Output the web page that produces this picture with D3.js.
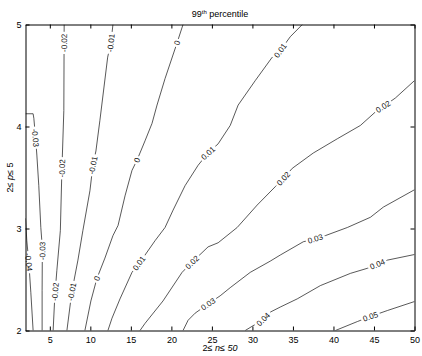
<!DOCTYPE html>
<html>
<head>
<meta charset="utf-8">
<script src="https://cdn.jsdelivr.net/npm/d3@7"></script>
<style>
  html, body { margin: 0; padding: 0; background: #fff; }
  svg { display: block; font-family: "Liberation Sans", Arial, Helvetica, sans-serif; }
</style>
</head>
<body>
<svg id="chart" width="422" height="356"></svg>
<script>
// ---- data (n, p) points along each contour line ----
const levels = [-0.04, -0.03, -0.02, -0.01, 0, 0.01, 0.02, 0.03, 0.04, 0.05];

const lineM04 = [[2.0,3.10],[2.16,2.88],[2.41,2.67],[2.66,2.37],[2.94,2.0]];
const lineM03 = [[2.0,4.125],[2.94,4.125],[3.03,4.08],[3.24,3.89],[3.40,3.72],[3.64,3.42],[3.89,3.01],[4.08,2.81],[4.05,2.39],[4.05,2.0]];
const lineM02 = [[6.77,5.0],[6.73,4.157],[6.49,3.569],[6.30,2.98],[5.87,2.59],[5.62,2.34],[5.41,2.0]];
const lineM01 = [[12.79,5.0],[12.54,4.82],[12.14,4.68],[11.18,4.06],[10.69,3.76],[10.32,3.62],[9.95,3.37],[9.08,2.98],[8.47,2.69],[7.72,2.38],[7.11,2.0]];
const line0   = [[21.44,5.0],[20.70,4.82],[19.22,4.47],[18.23,4.21],[17.61,4.03],[16.75,3.86],[15.76,3.67],[15.14,3.57],[14.28,3.32],[13.42,3.03],[12.79,2.93],[11.80,2.71],[10.81,2.51],[10.07,2.29],[9.33,2.0]];
const lineP01 = [[36.16,5.0],[34.67,4.88],[33.44,4.745],[32.45,4.68],[30.35,4.45],[28.24,4.21],[27.26,4.01],[25.77,3.83],[24.53,3.74],[23.30,3.62],[21.69,3.42],[20.21,3.18],[19.22,3.01],[17.98,2.88],[16.75,2.74],[16.00,2.66],[15.14,2.57],[13.66,2.31],[12.67,2.12],[12.17,2.0]];
const lineP02 = [[50,4.45],[47.65,4.28],[46.41,4.21],[45.42,4.16],[43.32,4.01],[40.48,3.88],[37.51,3.74],[34.92,3.59],[33.81,3.49],[32.82,3.41],[30.59,3.23],[28.12,3.01],[25.77,2.86],[24.53,2.82],[22.56,2.67],[21.32,2.57],[18.97,2.29],[16.75,2.07],[16.13,2.0]];
const lineP03 = [[50,3.38],[46.16,3.21],[44.56,3.11],[41.72,3.01],[39.0,2.93],[37.76,2.90],[36.28,2.87],[33.44,2.74],[32.20,2.68],[29.73,2.57],[27.26,2.42],[26.02,2.34],[24.53,2.26],[22.93,2.17],[22.06,2.10],[21.44,2.0]];
const lineP04 = [[50,2.745],[46.66,2.69],[45.42,2.65],[44.19,2.61],[42.09,2.56],[38.38,2.44],[35.53,2.31],[33.44,2.23],[32.20,2.18],[31.33,2.11],[30.35,2.06],[29.11,2.0]];
const lineP05 = [[50,2.284],[46.66,2.196],[44.56,2.137],[42.96,2.088],[40.24,2.0]];

// label anchor points (n, p) for each contour
const labM04 = [[2.41,2.67]];
const labM03 = [[3.24,3.89],[4.08,2.78]];
const labM02 = [[6.76,4.82],[6.49,3.59],[5.66,2.38]];
const labM01 = [[12.54,4.82],[10.32,3.62],[7.72,2.38]];
const lab0   = [[20.70,4.82],[15.76,3.67],[10.81,2.51]];
const labP01 = [[33.44,4.745],[24.53,3.74],[16.0,2.66]];
const labP02 = [[46.16,4.19],[33.81,3.49],[22.56,2.67]];
const labP03 = [[37.76,2.90],[24.53,2.26]];
const labP04 = [[45.42,2.65],[31.33,2.11]];
const labP05 = [[44.56,2.137]];

const xTicks = [5,10,15,20,25,30,35,40,45,50];
const yTicks = [2,3,4,5];
const xDomain = [2, 50];
const yDomain = [2, 5];

const titleMain = "99", titleSup = "th", titleRest = " percentile";

// ---- build table ----
const lines = [lineM04, lineM03, lineM02, lineM01, line0, lineP01, lineP02, lineP03, lineP04, lineP05];
const labs  = [labM04, labM03, labM02, labM01, lab0, labP01, labP02, labP03, labP04, labP05];
const contours = levels.map((v, i) => ({ level: v, pts: lines[i], labels: labs[i] }));

const L = 25.5, R = 414.5, T = 24.5, B = 330.5;
const x = d3.scaleLinear().domain(xDomain).range([L, R]);
const y = d3.scaleLinear().domain(yDomain).range([B, T]);

const svg = d3.select("#chart");
svg.append("defs").append("clipPath").attr("id", "clip")
  .append("rect").attr("x", L).attr("y", T).attr("width", R - L).attr("height", B - T);

const fmt = v => v === 0 ? "0" : (v < 0 ? "-" : "") + Math.abs(v).toFixed(2);
const lineGen = d3.line().x(d => x(d[0])).y(d => y(d[1]));

const gC = svg.append("g").attr("clip-path", "url(#clip)");
gC.selectAll("path.c").data(contours).join("path")
  .attr("class", "c")
  .attr("d", d => lineGen(d.pts))
  .attr("fill", "none")
  .attr("stroke", "#111")
  .attr("stroke-width", 0.7);

// labels along lines
function project(pts, q) {
  const P = pts.map(d => [x(d[0]), y(d[1])]);
  const Q = [x(q[0]), y(q[1])];
  let best = null;
  for (let i = 0; i < P.length - 1; i++) {
    const a = P[i], b = P[i + 1];
    const dx = b[0] - a[0], dy = b[1] - a[1];
    const len2 = dx * dx + dy * dy || 1;
    let t = ((Q[0] - a[0]) * dx + (Q[1] - a[1]) * dy) / len2;
    t = Math.max(0, Math.min(1, t));
    const px = a[0] + t * dx, py = a[1] + t * dy;
    const dist = (px - Q[0]) ** 2 + (py - Q[1]) ** 2;
    if (!best || dist < best.dist) best = { px, py, dx, dy, dist };
  }
  let ang = Math.atan2(best.dy, best.dx) * 180 / Math.PI;
  if (ang > 90) ang -= 180;
  if (ang <= -90) ang += 180;
  return { px: best.px, py: best.py, ang };
}

const labelData = [];
contours.forEach(c => c.labels.forEach(q => {
  const p = project(c.pts, q);
  labelData.push({ text: fmt(c.level), ...p });
}));

const gL = svg.append("g");
const lg = gL.selectAll("g").data(labelData).join("g")
  .attr("transform", d => `translate(${d.px},${d.py}) rotate(${d.ang})`);
lg.append("rect");
lg.append("text")
  .attr("text-anchor", "middle")
  .attr("dy", "0.36em")
  .attr("font-size", 8)
  .attr("fill", "#111")
  .text(d => d.text);
lg.each(function () {
  const g = d3.select(this);
  const w = g.select("text").node().getComputedTextLength() + 4;
  g.select("rect").attr("x", -w / 2).attr("y", -3.5).attr("width", w).attr("height", 7).attr("fill", "#fff");
});

// axes (inward ticks, box)
const axB = d3.axisBottom(x).tickValues(xTicks).tickSizeInner(-4).tickSizeOuter(0).tickPadding(6).tickFormat(d3.format("d"));
const axT = d3.axisTop(x).tickValues(xTicks).tickSizeInner(-4).tickSizeOuter(0).tickFormat("");
const axLft = d3.axisLeft(y).tickValues(yTicks).tickSizeInner(-4).tickSizeOuter(0).tickPadding(4).tickFormat(d3.format("d"));
const axRt = d3.axisRight(y).tickValues(yTicks).tickSizeInner(-4).tickSizeOuter(0).tickFormat("");

function styleAxis(g) {
  g.selectAll("path.domain").attr("stroke", "#000").attr("stroke-width", 1);
  g.selectAll(".tick line").attr("stroke", "#000").attr("stroke-width", 1);
  g.selectAll(".tick text").attr("font-size", 9).attr("fill", "#000")
    .attr("font-family", "'Liberation Sans', Arial, Helvetica, sans-serif");
}
svg.append("g").attr("transform", `translate(0,${B})`).call(axB).call(styleAxis);
svg.append("g").attr("transform", `translate(0,${T})`).call(axT).call(styleAxis);
svg.append("g").attr("transform", `translate(${L},0)`).call(axLft).call(styleAxis);
svg.append("g").attr("transform", `translate(${R},0)`).call(axRt).call(styleAxis);

// title
const title = svg.append("text").attr("x", (L + R) / 2).attr("y", 17)
  .attr("text-anchor", "middle").attr("font-size", 9).attr("fill", "#000");
title.append("tspan").text(titleMain);
title.append("tspan").attr("font-size", 6).attr("dy", -3.5).text(titleSup);
title.append("tspan").attr("dy", 3.5).text(titleRest);

// x label
const xl = svg.append("text").attr("x", (L + R) / 2).attr("y", 351)
  .attr("text-anchor", "middle").attr("font-size", 9).attr("fill", "#000");
xl.append("tspan").text("2≤  ");
xl.append("tspan").attr("font-style", "italic").text("n");
xl.append("tspan").text("≤ ");
xl.append("tspan").attr("font-style", "italic").text("50");

// y label
const yl = svg.append("text").attr("transform", `translate(13,${(T + B) / 2}) rotate(-90)`)
  .attr("text-anchor", "middle").attr("font-size", 9).attr("fill", "#000");
yl.append("tspan").text("2≤  ");
yl.append("tspan").attr("font-style", "italic").text("p");
yl.append("tspan").text("≤ 5");
</script>
</body>
</html>
